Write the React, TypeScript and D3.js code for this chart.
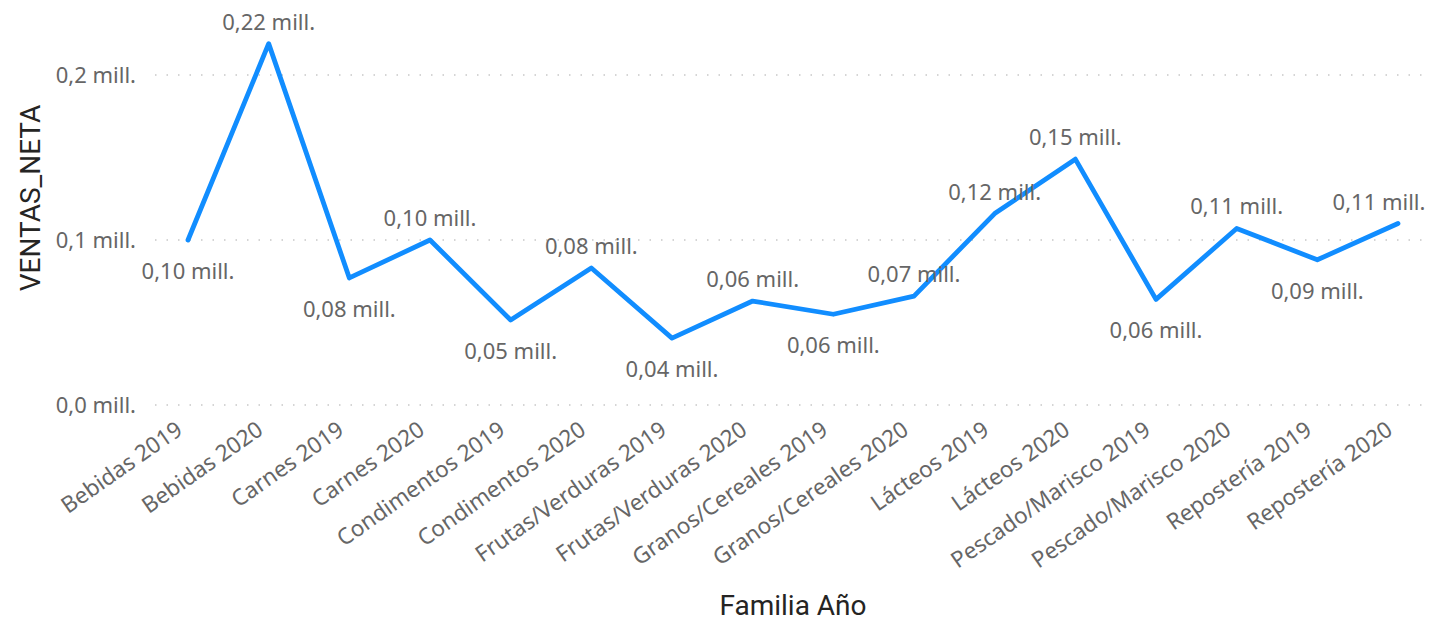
import React from "react";
import * as d3 from "d3";

const categories: string[] = [
  "Bebidas 2019", "Bebidas 2020", "Carnes 2019", "Carnes 2020",
  "Condimentos 2019", "Condimentos 2020", "Frutas/Verduras 2019", "Frutas/Verduras 2020",
  "Granos/Cereales 2019", "Granos/Cereales 2020", "Lácteos 2019", "Lácteos 2020",
  "Pescado/Marisco 2019", "Pescado/Marisco 2020", "Repostería 2019", "Repostería 2020",
];
const ventas: number[] = [
  0.100, 0.219, 0.077, 0.100,
  0.0515, 0.083, 0.0405, 0.063,
  0.055, 0.066, 0.116, 0.149,
  0.064, 0.107, 0.088, 0.110,
];
const yTicks: number[] = [0, 0.1, 0.2];

const W = 1433, H = 623;
const FONT = "'Noto Sans', 'Open Sans', sans-serif";
const TITLE_FONT = "Roboto, 'DejaVu Sans', sans-serif";
const LABEL_HALF = 47;
const RIGHT_LIMIT = 1426;

const fmtTick = (v: number) => v.toFixed(1).replace(".", ",") + " mill.";
const fmtLabel = (v: number) => v.toFixed(2).replace(".", ",") + " mill.";

export default function App() {
  const x = d3.scalePoint<string>().domain(categories).range([188, 1398]);
  const y = d3.scaleLinear().domain([0, 0.2]).range([405, 75]);
  const line = d3.line<number>().x((_, i) => x(categories[i])!).y((d) => y(d));

  const below = (i: number) => {
    const v = ventas[i];
    const p = i > 0 ? ventas[i - 1] : Infinity;
    const n = i < ventas.length - 1 ? ventas[i + 1] : Infinity;
    return v <= p && v <= n;
  };

  return (
    <svg width={W} height={H} style={{ position: "absolute", left: 0, top: 0, background: "#fff" }}>
      {yTicks.map((t) => (
        <g key={t}>
          <line x1={155} x2={1422} y1={y(t)} y2={y(t)} stroke="#c8c8c8" strokeWidth={1.5} strokeDasharray="1.5 10" />
          <text x={136} y={y(t)} dy="0.35em" textAnchor="end" fontFamily={FONT} fontSize={22} fill="#666">
            {fmtTick(t)}
          </text>
        </g>
      ))}
      {categories.map((c) => (
        <text key={c} transform={`translate(${x(c)! - 4},${433}) rotate(-35)`} textAnchor="end"
          fontFamily={FONT} fontSize={22.5} fill="#666">
          {c}
        </text>
      ))}
      <path d={line(ventas)!} fill="none" stroke="#118DFF" strokeWidth={4.8} strokeLinejoin="round" strokeLinecap="round" />
      {ventas.map((v, i) => {
        const cx = Math.min(x(categories[i])!, RIGHT_LIMIT - LABEL_HALF);
        return (
          <text key={i} x={cx} y={below(i) ? y(v) + 39 : y(v) - 14} textAnchor="middle"
            fontFamily={FONT} fontSize={22} fill="#666">
            {fmtLabel(v)}
          </text>
        );
      })}
      <text transform={`translate(40,198) rotate(-90)`} textAnchor="middle" fontFamily={TITLE_FONT} fontSize={28} fill="#252423">
        VENTAS_NETA
      </text>
      <text x={793} y={615} textAnchor="middle" fontFamily={TITLE_FONT} fontSize={28} fill="#252423">
        Familia Año
      </text>
    </svg>
  );
}
